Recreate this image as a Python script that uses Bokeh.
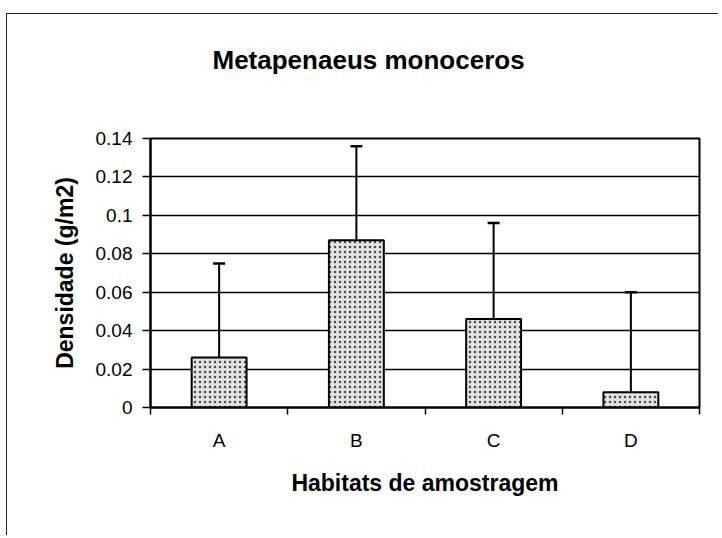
from bokeh.plotting import figure
from bokeh.models import (ColumnDataSource, FixedTicker, Whisker, TeeHead, Range1d, Title)
from bokeh.embed import file_html
from bokeh.resources import INLINE

# ---- data ----
categories = ["A", "B", "C", "D"]
densidade = [0.026, 0.087, 0.046, 0.008]      # bar heights (g/m2)
desvio = [0.049, 0.049, 0.050, 0.052]          # upper error (standard deviation)
y_ticks = [0, 0.02, 0.04, 0.06, 0.08, 0.10, 0.12, 0.14]
y_tick_labels = ["0", "0.02", "0.04", "0.06", "0.08", "0.1", "0.12", "0.14"]

titulo = "Metapenaeus monoceros"
x_titulo = "Habitats de amostragem"
y_titulo = "Densidade (g/m2)"

FONT = "Liberation Sans"

centers = [i + 0.5 for i in range(len(categories))]
upper = [d + s for d, s in zip(densidade, desvio)]
src = ColumnDataSource(dict(x=centers, top=densidade, upper=upper, cat=categories))

p = figure(width=712, height=522, output_backend="svg", toolbar_location=None,
           x_range=Range1d(0, len(categories)), y_range=Range1d(0, 0.14),
           min_border_left=143, min_border_right=20, min_border_top=124,
           min_border_bottom=129)

# chart-area border (top and left edges, as in the scanned original)
p.styles = {"margin-left": "6px", "margin-top": "13px",
            "border-top": "1px solid #222", "border-left": "1px solid #222"}

p.background_fill_color = "white"
p.border_fill_color = "white"
p.outline_line_color = "black"
p.outline_line_width = 2

# spacer between plot area and title, then the title itself
spacer = Title(text=" ", text_font=FONT, text_font_size="20px", standoff=40)
p.add_layout(spacer, "above")
t = Title(text=titulo, align="left", offset=62, text_font=FONT, text_font_size="26px",
          text_font_style="bold", text_color="black", standoff=0)
p.add_layout(t, "above")

p.vbar(x="x", top="top", width=0.4, bottom=0, source=src,
       fill_color="#e2e2e2", line_color="black", line_width=2,
       hatch_pattern="dot", hatch_color="#4a4a4a", hatch_scale=5, hatch_weight=1)

w = Whisker(base="x", lower="top", upper="upper", source=src, dimension="height",
            line_color="black", line_width=2,
            upper_head=TeeHead(size=12, line_color="black", line_width=2.5),
            lower_head=None)
p.add_layout(w)

# grid
p.xgrid.visible = False
p.ygrid.ticker = FixedTicker(ticks=y_ticks)
p.ygrid.grid_line_color = "black"
p.ygrid.grid_line_width = 1.5

# y axis
p.yaxis.ticker = FixedTicker(ticks=y_ticks)
p.yaxis.major_label_overrides = {v: s for v, s in zip(y_ticks, y_tick_labels)}
p.yaxis.axis_line_color = "black"
p.yaxis.axis_line_width = 2
p.yaxis.major_tick_out = 8
p.yaxis.major_tick_in = 0
p.yaxis.major_tick_line_width = 1.5
p.yaxis.minor_tick_line_color = None
p.yaxis.major_label_standoff = 10
p.yaxis.major_label_text_font = FONT
p.yaxis.major_label_text_font_size = "19px"
p.yaxis.major_label_text_color = "black"
p.yaxis.axis_label = y_titulo
p.yaxis.axis_label_text_font = FONT
p.yaxis.axis_label_text_font_size = "23px"
p.yaxis.axis_label_text_font_style = "bold"
p.yaxis.axis_label_text_color = "black"
p.yaxis.axis_label_standoff = 15

# x axis: labels at bar centres, ticks at category boundaries
p.xaxis.ticker = FixedTicker(ticks=centers, minor_ticks=list(range(len(categories) + 1)))
p.xaxis.major_label_overrides = {c: s for c, s in zip(centers, categories)}
p.xaxis.axis_line_color = "black"
p.xaxis.axis_line_width = 2
p.xaxis.major_tick_out = 0
p.xaxis.major_tick_in = 0
p.xaxis.minor_tick_out = 7
p.xaxis.minor_tick_in = 0
p.xaxis.minor_tick_line_width = 1.5
p.xaxis.minor_tick_line_color = "black"
p.xaxis.major_label_standoff = 15
p.xaxis.major_label_text_font = FONT
p.xaxis.major_label_text_font_size = "19px"
p.xaxis.major_label_text_color = "black"
p.xaxis.axis_label = x_titulo
p.xaxis.axis_label_text_font = FONT
p.xaxis.axis_label_text_font_size = "23px"
p.xaxis.axis_label_text_font_style = "bold"
p.xaxis.axis_label_text_color = "black"
p.xaxis.axis_label_standoff = 16

open("out.html", "w").write(file_html(p, INLINE))
